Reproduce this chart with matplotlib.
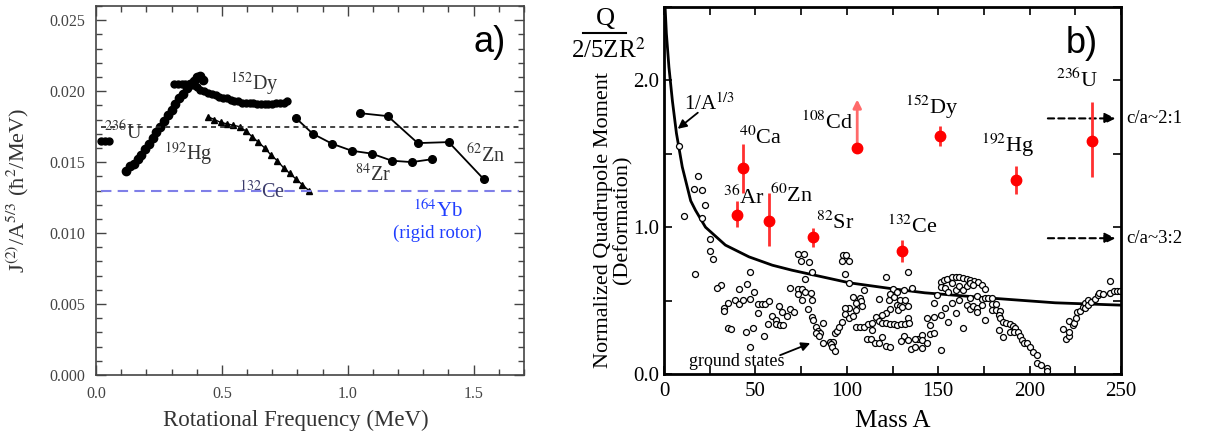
import numpy as np
import matplotlib.pyplot as plt
from matplotlib.lines import Line2D
from matplotlib.ticker import MultipleLocator

plt.rcParams['font.family'] = ['Liberation Serif', 'DejaVu Serif']
plt.rcParams['mathtext.fontset'] = 'stix'

# --- panel a: J(2)/A^5/3 vs rotational frequency ---
u236_w = [0.02, 0.035, 0.05]
u236_j = [0.0165, 0.0165, 0.0165]

hg192_w = [0.12, 0.135, 0.15, 0.165, 0.18, 0.195, 0.21, 0.225, 0.24, 0.255, 0.27, 0.285,
           0.30, 0.315, 0.33, 0.345, 0.36, 0.375, 0.39, 0.40, 0.413, 0.425]
hg192_j = [0.0144, 0.0147, 0.0149, 0.0152, 0.0155, 0.0159, 0.0163, 0.0167, 0.0171, 0.0175, 0.0179, 0.0183,
           0.0187, 0.0191, 0.0195, 0.0198, 0.0202, 0.0205, 0.0207, 0.0210, 0.0211, 0.0208]

dy152_w = [0.31, 0.325, 0.34, 0.355, 0.37, 0.385, 0.40, 0.415, 0.43, 0.445, 0.46, 0.475, 0.49,
           0.505, 0.52, 0.535, 0.55, 0.565, 0.58, 0.595, 0.61, 0.625, 0.64, 0.655, 0.67, 0.685,
           0.70, 0.715, 0.73, 0.745, 0.76]
dy152_j = [0.0205, 0.0205, 0.0205, 0.0205, 0.0204, 0.0204, 0.0203, 0.0201, 0.0200, 0.0199, 0.0198,
           0.0197, 0.0196, 0.0195, 0.0195, 0.0194, 0.0193, 0.0193, 0.0192, 0.0192, 0.0192, 0.0192,
           0.0191, 0.0191, 0.0191, 0.0191, 0.0191, 0.0192, 0.0192, 0.0192, 0.0193]

ce132_w = [0.445, 0.47, 0.495, 0.52, 0.545, 0.57, 0.595, 0.62, 0.645, 0.67, 0.695, 0.72, 0.745,
           0.77, 0.795, 0.82, 0.845]
ce132_j = [0.0182, 0.0180, 0.0178, 0.0177, 0.0176, 0.0175, 0.0172, 0.0168, 0.0164, 0.0160, 0.0155,
           0.0151, 0.0146, 0.0142, 0.0138, 0.0134, 0.0130]

zr84_w = [0.794, 0.861, 0.937, 1.016, 1.095, 1.175, 1.254, 1.333]
zr84_j = [0.0181, 0.0170, 0.0163, 0.0158, 0.0156, 0.0151, 0.0150, 0.0152]

zn62_w = [1.048, 1.159, 1.278, 1.401, 1.540]
zn62_j = [0.01845, 0.01824, 0.01634, 0.01641, 0.0138]

u236_ref = 0.0175      # dashed reference line
yb164_rigid = 0.0130   # rigid rotor

# --- panel b: normalized quadrupole moment vs mass ---
sd_names = ['$^{36}$Ar', '$^{40}$Ca', '$^{60}$Zn', '$^{82}$Sr', '$^{108}$Cd',
            '$^{132}$Ce', '$^{152}$Dy', '$^{192}$Hg', '$^{236}$U']
sd_mass = [39.9, 43.4, 57.3, 81.6, 105.7, 130.0, 150.9, 192.5, 234.2]
sd_q = [1.08, 1.40, 1.04, 0.93, 1.54, 0.84, 1.62, 1.32, 1.59]
sd_err_lo = [0.08, 0.17, 0.17, 0.065, 0.0, 0.076, 0.07, 0.094, 0.25]
sd_err_hi = [0.10, 0.17, 0.19, 0.065, 0.0, 0.076, 0.07, 0.094, 0.26]
cd_lower_limit_top = 1.87

curve_mass = [0.6, 1.3, 2.7, 4.6, 6.8, 10, 14.6, 17.2, 22.7, 33.6, 46.5, 59.3, 70,
              101.5, 123.5, 142.7, 176.6, 214, 250]
curve_q = [2.5, 2.32, 2.09, 1.86, 1.64, 1.41, 1.18, 1.116, 1.0, 0.878, 0.798, 0.741, 0.707,
           0.621, 0.583, 0.553, 0.519, 0.485, 0.469]

gs_mass = [8.4, 18.7, 16.6, 20.9, 22.7, 10.8, 20.9, 25.2, 25.2, 26.9, 17.2, 46.8, 45.2, 31.1,
           28.9, 41.0, 49.0, 34.8, 39.1, 41.0, 43.2, 47.0, 51.2, 53.4, 55.2, 57.4, 32.9, 32.7,
           51.2, 62.9, 59.3, 64.8, 67.5, 61.1, 57.1, 61.1, 63.3, 65.3, 69.0, 69.0, 34.8, 36.9,
           45.0, 48.7, 54.9, 47.2,
           73.5, 76.8, 75.2, 79.2, 81.1, 77.2, 73.2, 75.6, 77.4, 73.2, 75.4, 80.5, 80.7, 79.0,
           81.1, 81.4, 82.9, 84.1, 85.4, 83.3, 84.7, 87.1, 87.1, 90.9, 92.4, 91.3, 91.9, 93.5,
           93.3, 94.8, 95.7, 97.3, 71.0, 97.9, 99.3, 97.5, 101.2, 99.2, 101.2, 109.2, 103.3,
           107.0, 107.6, 104.8, 101.2, 99.2, 105.2, 108.5, 99.2, 101.2, 103.3, 105.2, 107.4,
           109.6, 111.8, 113.6, 115.8, 117.6, 113.6, 111.0, 113.2, 115.3, 117.5, 119.5, 121.3,
           123.5, 121.3, 117.6, 123.1, 125.3, 123.5, 125.7, 127.5, 129.0, 131.7, 127.2, 123.5,
           121.7, 119.5, 129.0, 128.1, 130.3, 133.6, 133.6, 119.5, 121.7, 123.9, 125.7, 127.5,
           129.5, 131.7, 133.9, 131.3, 129.4, 133.6, 135.0, 137.2, 139.0, 137.2, 141.2, 133.6,
           131.3, 135.6,
           141.4, 143.6, 141.4, 145.4, 147.6, 143.6, 145.4, 147.6, 151.3, 151.6, 147.6, 149.5,
           153.7, 157.7, 159.7, 155.5, 163.4, 151.3, 153.1, 155.0, 157.4, 159.6, 161.5, 163.4,
           165.6, 167.4, 169.6, 171.6, 173.8, 175.6, 151.3, 153.7, 155.5, 157.7, 159.7, 161.5,
           163.7, 165.6, 167.4, 169.2, 161.5, 165.6, 167.4, 169.2, 171.4, 171.4, 167.4, 171.4,
           173.8, 173.8, 175.6, 177.4, 179.6, 175.6, 179.3, 181.7, 179.3, 181.7, 183.9, 183.3,
           183.9, 185.3, 187.2, 189.4, 190.8, 192.1, 189.4, 191.7, 193.9, 194.8, 195.8, 196.7,
           198.5, 200.3, 201.8, 204.0, 204.0, 206.2, 209.5, 209.5, 183.5, 185.7,
           218.1, 219.9, 221.4, 221.7, 221.7, 223.8, 224.1, 225.6, 225.9, 227.8, 229.2, 230.1,
           230.1, 231.8, 231.8, 233.8, 235.6, 237.5, 238.2, 240.0, 243.9, 243.9, 246.1, 248.0,
           249.7]
gs_q = [1.551, 1.352, 1.261, 1.254, 1.15, 1.077, 1.063, 0.918, 0.841, 0.780, 0.682, 0.694, 0.614,
        0.608, 0.583, 0.578, 0.558, 0.483, 0.503, 0.474, 0.503, 0.510, 0.474, 0.476, 0.478, 0.497,
        0.451, 0.429, 0.417, 0.463, 0.392, 0.422, 0.392, 0.369, 0.340, 0.340, 0.331, 0.331, 0.444,
        0.583, 0.313, 0.304, 0.288, 0.313, 0.261, 0.184,
        0.816, 0.816, 0.771, 0.760, 0.692, 0.646, 0.576, 0.580, 0.560, 0.542, 0.503, 0.549, 0.503,
        0.440, 0.390, 0.367, 0.317, 0.295, 0.281, 0.281, 0.259, 0.349, 0.213, 0.220, 0.220, 0.202,
        0.186, 0.156, 0.277, 0.293, 0.322, 0.356, 0.420, 0.810, 0.810, 0.771, 0.771, 0.680, 0.617,
        0.571, 0.526, 0.519, 0.497, 0.485, 0.447, 0.447, 0.435, 0.463, 0.408, 0.379, 0.395, 0.318,
        0.318, 0.322, 0.340, 0.349, 0.385, 0.363, 0.299, 0.236, 0.236, 0.213, 0.213, 0.249, 0.193,
        0.182, 0.662, 0.510, 0.503, 0.576, 0.544, 0.526, 0.560, 0.503, 0.503, 0.469, 0.440, 0.417,
        0.401, 0.463, 0.435, 0.454, 0.463, 0.379, 0.349, 0.349, 0.340, 0.340, 0.333, 0.338, 0.340,
        0.349, 0.259, 0.227, 0.231, 0.168, 0.186, 0.236, 0.236, 0.265, 0.692, 0.571, 0.583,
        0.231, 0.209, 0.175, 0.270, 0.277, 0.379, 0.333, 0.390, 0.401, 0.163, 0.481, 0.537, 0.447,
        0.481, 0.413, 0.356, 0.315, 0.628, 0.639, 0.646, 0.658, 0.662, 0.658, 0.651, 0.644, 0.639,
        0.633, 0.624, 0.605, 0.576, 0.590, 0.583, 0.560, 0.617, 0.571, 0.599, 0.571, 0.599, 0.617,
        0.605, 0.503, 0.469, 0.440, 0.463, 0.447, 0.424, 0.515, 0.531, 0.512, 0.469, 0.515, 0.519,
        0.519, 0.367, 0.474, 0.474, 0.435, 0.435, 0.429, 0.401, 0.379, 0.356, 0.345, 0.340, 0.327,
        0.311, 0.288, 0.288, 0.288, 0.259, 0.231, 0.209, 0.209, 0.186, 0.152, 0.129, 0.077, 0.061,
        0.039, 0.020, 0.299, 0.254,
        0.306, 0.236, 0.259, 0.283, 0.363, 0.333, 0.349, 0.383, 0.424, 0.429, 0.458, 0.481, 0.451,
        0.503, 0.469, 0.492, 0.508, 0.537, 0.553, 0.544, 0.635, 0.549, 0.565, 0.567, 0.567]

W, H = 1205, 437
fig = plt.figure(figsize=(W / 100, H / 100), dpi=100)


def px_axes(l, t, r, b):
    return fig.add_axes([l / W, 1 - b / H, (r - l) / W, (b - t) / H])


# ================= panel a =================
ax = px_axes(96, 6, 524, 375)
frame = '#444444'
mk = dict(color='black', mec='black')
ax.plot(u236_w, u236_j, 'o-', ms=5, lw=1.2, **mk)
ax.plot(hg192_w, hg192_j, 'o-', ms=6, lw=1.0, **mk)
ax.plot(dy152_w, dy152_j, 'o-', ms=5, lw=1.0, **mk)
ax.plot(ce132_w, ce132_j, '^-', ms=4.5, lw=1.0, **mk)
ax.plot(zr84_w, zr84_j, 'o-', ms=5.5, lw=1.3, **mk)
ax.plot(zn62_w, zn62_j, 'o-', ms=5.5, lw=1.3, **mk)
ax.plot([0.02, 1.68], [u236_ref] * 2, color='#222222', lw=1.2, ls=(0, (3, 2.5)))
ax.plot([0.02, 1.68], [yb164_rigid] * 2, color='#7f7fe8', lw=1.5, ls=(0, (5, 3)))

ax.set_xlim(0, 1.7)
ax.set_ylim(0, 0.026)
ax.xaxis.set_major_locator(MultipleLocator(0.5))
ax.xaxis.set_minor_locator(MultipleLocator(0.1))
ax.yaxis.set_major_locator(MultipleLocator(0.005))
ax.yaxis.set_minor_locator(MultipleLocator(0.001))
ax.xaxis.set_major_formatter(lambda v, p: f'{v:.1f}')
ax.yaxis.set_major_formatter(lambda v, p: f'{v:.3f}')
ax.tick_params(which='both', direction='in', top=True, right=True, colors=frame,
               labelcolor='#444444', labelsize=11.5, pad=8)
ax.tick_params(which='major', length=7, width=1)
ax.tick_params(which='minor', length=4, width=1)
for s in ax.spines.values():
    s.set_color(frame)
    s.set_linewidth(1.2)
ax.set_xlabel('Rotational Frequency (MeV)', fontsize=16.5, color='#333333')
ax.xaxis.set_label_coords(0.467, -0.095)
ax.set_ylabel('J$^{(2)}$/A$^{5/3}$ (ħ$^{2}$/MeV)', fontsize=16, color='#333333')
ax.yaxis.set_label_coords(-0.152, 0.5)

lab_a = dict(fontsize=14.5, color='#333333', ha='center', va='center')
ax.text(0.11, 0.0171, '$^{236}$U', **lab_a)
ax.text(0.631, 0.0205, '$^{152}$Dy', **lab_a)
ax.text(0.365, 0.0156, '$^{192}$Hg', **lab_a)
ax.text(0.66, 0.0129, '$^{132}$Ce', fontsize=14.5, color='#3a3a6a', ha='center', va='center')
ax.text(1.10, 0.0141, '$^{84}$Zr', **lab_a)
ax.text(1.548, 0.0155, '$^{62}$Zn', **lab_a)
ax.text(1.357, 0.0116, '$^{164}$Yb', fontsize=15, color='#1f3dff', ha='center', va='center')
ax.text(1.357, 0.0100, '(rigid rotor)', fontsize=13.5, color='#1f3dff', ha='center', va='center')
ax.text(1.563, 0.0234, 'a)', fontsize=26, family=['Liberation Sans', 'DejaVu Sans'],
        ha='center', va='center')

# ================= panel b =================
bx = px_axes(664, 7, 1121, 374)
bx.plot(curve_mass, curve_q, color='black', lw=2)
bx.plot(gs_mass, gs_q, 'o', ms=4.3, mfc='white', mec='black', mew=0.9, ls='none')

for i in range(len(sd_mass)):
    if sd_err_lo[i] > 0:
        bx.errorbar(sd_mass[i], sd_q[i], yerr=[[sd_err_lo[i]], [sd_err_hi[i]]],
                    fmt='o', color='#ff0000', ecolor='#ff3030', ms=7.5, elinewidth=2, capsize=0,
                    zorder=4)
    else:
        bx.annotate('', xy=(sd_mass[i], cd_lower_limit_top), xytext=(sd_mass[i], sd_q[i]),
                    arrowprops=dict(arrowstyle='-|>', color='#ff6a6a', lw=2, mutation_scale=12,
                                    shrinkA=0, shrinkB=0), zorder=3)
        bx.plot(sd_mass[i], sd_q[i], 'o', color='#ff0000', ms=7.5, zorder=4)

lab_pos = [(43.9, 1.20), (53.0, 1.61), (69.8, 1.22), (93.4, 1.03), (89.0, 1.71),
           (136.0, 1.00), (146.6, 1.82), (188.0, 1.56), (226.0, 2.00)]
for name, (lx, ly) in zip(sd_names, lab_pos):
    bx.text(lx, ly, name, fontsize=16, ha='center', va='center')

bx.text(25, 1.84, '1/A$^{1/3}$', fontsize=15, ha='center', va='center')
bx.annotate('', xy=(7.5, 1.67), xytext=(18.5, 1.78),
            arrowprops=dict(arrowstyle='-|>', color='black', lw=1.3, mutation_scale=13,
                            shrinkA=0, shrinkB=0))
bx.text(40, 0.085, 'ground states', fontsize=13, ha='center', va='center')
bx.annotate('', xy=(80, 0.21), xytext=(63.5, 0.128),
            arrowprops=dict(arrowstyle='-|>', color='black', lw=1.3, mutation_scale=13,
                            shrinkA=0, shrinkB=0))

for ly, txt in [(1.741, 'c/a~2:1'), (0.925, 'c/a~3:2')]:
    bx.annotate('', xy=(247, ly), xytext=(210, ly),
                arrowprops=dict(arrowstyle='-|>', color='black', lw=1.5, ls=(0, (3, 2)),
                                mutation_scale=16, shrinkA=0, shrinkB=0))
    bx.text(253, ly, txt, fontsize=13.5, ha='left', va='center', clip_on=False)

bx.text(228.5, 2.25, 'b)', fontsize=26, family=['Liberation Sans', 'DejaVu Sans'],
        ha='center', va='center')

bx.set_xlim(0, 250)
bx.set_ylim(0, 2.5)
bx.xaxis.set_major_locator(MultipleLocator(50))
bx.xaxis.set_minor_locator(MultipleLocator(25))
bx.yaxis.set_major_locator(MultipleLocator(1.0))
bx.yaxis.set_minor_locator(MultipleLocator(0.5))
bx.yaxis.set_major_formatter(lambda v, p: f'{v:.1f}')
bx.tick_params(which='both', direction='in', top=True, right=True, labelsize=15, width=1.2)
bx.tick_params(axis='x', pad=6)
bx.tick_params(which='major', length=6)
bx.tick_params(which='minor', length=6)
for s in bx.spines.values():
    s.set_linewidth(2)
bx.set_xlabel('Mass A', fontsize=18, labelpad=6)

fig.text(613 / W, 1 - 220 / H, 'Normalized Quadrupole Moment\n(Deformation)', rotation=90,
         fontsize=16, ha='center', va='center', multialignment='center', linespacing=1.0)
fig.text(605 / W, 1 - 19 / H, 'Q', fontsize=19, ha='center', va='center')
fig.add_artist(Line2D([583 / W, 626 / W], [1 - 33 / H] * 2, color='black', lw=1.5))
fig.text(608 / W, 1 - 50 / H, '2/5ZR$^2$', fontsize=18, ha='center', va='center')

fig.savefig('out.png', dpi=100)
